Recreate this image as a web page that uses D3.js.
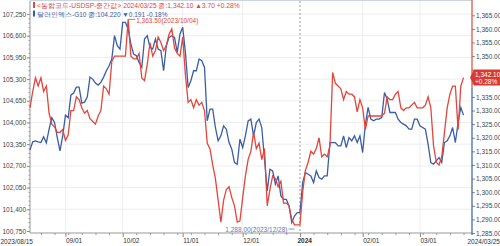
<!DOCTYPE html>
<html>
<head>
<meta charset="utf-8">
<script src="https://cdn.jsdelivr.net/npm/d3@7"></script>
<style>
body { margin: 0; background: #fff; }
svg { display: block; }
text { font-family: "Liberation Sans", Arial, sans-serif; }
</style>
</head>
<body>
<svg id="chart" width="500" height="246"></svg>
<script>
// weekday axis, 2023/08/15 .. 2024/03/25
const startDay = new Date(2023, 7, 15)
const endDay = new Date(2024, 2, 26)

// <통합코드-USDSP-중간값> (right axis)
const usdkrw = [
    1331, 1337, 1342, 1339, 1342, 1337, 1339, 1329, 1325, 1324, 1322, 1322, 1323,
    1319, 1321, 1330, 1330, 1335, 1334, 1331, 1329, 1330, 1327, 1326, 1325, 1328, 1330, 1339, 1338, 1336, 1348, 1350, 1350, 1350,
    1350, 1350, 1363.5, 1350, 1349, 1349, 1351, 1342, 1341, 1347, 1355, 1350, 1352, 1357, 1355, 1352, 1354, 1358, 1360, 1353, 1351, 1350,
    1357, 1343, 1333, 1334, 1331, 1334, 1332, 1333, 1330, 1318, 1316, 1310, 1305, 1297, 1289, 1297, 1301, 1302, 1298, 1295, 1289, 1289.5,
    1298, 1306, 1312, 1315, 1322, 1316, 1318, 1312, 1316, 1295, 1301, 1306, 1305, 1302, 1304, 1296, 1296, 1295, 1290, 1288, 1288,
    1288, 1300, 1308, 1311, 1315, 1314, 1316, 1320, 1313, 1314, 1313, 1317, 1344, 1340, 1339, 1338, 1334, 1337, 1336, 1336, 1335, 1329.5, 1334,
    1331, 1323, 1328, 1328, 1328, 1328, 1328, 1328, 1329, 1335, 1334, 1334, 1336, 1337, 1331, 1330, 1331, 1331, 1332, 1333, 1331,
    1331, 1331, 1332, 1335, 1331, 1317, 1311, 1310, 1313, 1322, 1331, 1336, 1339, 1339, 1323, 1339, 1342.1
]

// 달러인덱스-G10 (left axis)
const dxy = [
    103.18, 103.42, 103.45, 103.42, 103.40, 103.57, 103.39, 103.80, 104.14, 104.00, 103.55, 103.15, 103.60,
    104.22, 104.14, 104.82, 104.88, 105.06, 105.06, 104.58, 104.61, 104.76, 105.36, 105.30, 105.18, 105.12, 105.21, 105.36, 105.55, 105.70, 105.90, 106.60, 106.30, 106.20,
    107.00, 107.00, 106.80, 106.35, 106.05, 106.00, 105.80, 105.65, 106.50, 106.60, 106.25, 106.20, 106.50, 106.20, 106.15, 105.55, 106.30, 106.55, 106.60, 106.55, 106.10, 106.65,
    106.85, 106.10, 105.05, 105.25, 105.55, 105.55, 105.90, 105.85, 105.65, 104.05, 104.40, 104.40, 103.85, 103.45, 103.60, 103.90, 103.80, 103.40, 103.20, 102.80, 102.75, 103.50,
    103.25, 103.60, 104.05, 104.10, 103.60, 104.00, 104.10, 103.85, 102.90, 101.95, 102.60, 102.55, 102.15, 102.40, 101.80, 101.70, 101.70, 101.50, 101.00, 101.20, 101.30,
    101.30, 102.20, 102.50, 102.45, 102.40, 102.20, 102.55, 102.35, 102.30, 102.40, 102.40, 103.40, 103.40, 103.40, 103.30, 103.30, 103.60, 103.25, 103.55, 103.45, 103.60, 103.40, 103.60,
    103.10, 103.95, 104.45, 104.10, 104.05, 104.10, 104.10, 104.15, 104.90, 104.70, 104.30, 104.30, 104.30, 104.10, 104.00, 103.95, 103.90, 103.80, 103.80, 104.10, 104.10,
    103.90, 103.85, 103.80, 103.35, 102.80, 102.75, 102.85, 102.95, 102.80, 103.40, 103.45, 103.60, 103.85, 103.40, 104.00, 104.45, 104.22
]

const leftTicks = [100.75, 101.4, 102.05, 102.7, 103.35, 104.0, 104.65, 105.3, 105.95, 106.6, 107.25]
const rightTicks = [1285, 1290, 1295, 1300, 1305, 1310, 1315, 1320, 1325, 1330, 1335, 1340, 1345, 1350, 1355, 1360, 1365]
const tickDates = ["2023/09/01", "2023/10/02", "2023/11/01", "2023/12/01", "2024/01/01", "2024/02/01", "2024/03/01"]
const tickLabels = ["09/01", "10/02", "11/01", "12/01", "2024", "02/01", "03/01"]

const legend1 = "<통합코드-USDSP-중간값> 2024/03/25 종:1,342.10 ▲3.70 +0.28%"
const legend2 = "달러인덱스-G10 종:104.220 ▼0.191 -0.18%"
const lastChange = "+0.28%"

const red = "#e2463c"
const blue = "#3a5da8"
const plotL = 30, plotR = 472, plotT = 1, plotB = 233

const days = d3.timeDay.range(startDay, endDay).filter(d => d.getDay() % 6 !== 0)
const fmtDay = d3.timeFormat("%Y/%m/%d")
const tickIdx = tickDates.map(t => days.findIndex(d => fmtDay(d) === t))

const x = d3.scaleLinear().domain([0, 162.1]).range([plotL, plotR])
const yL = d3.scaleLinear().domain([100.75, 107.25]).range([231, 14])
const yR = d3.scaleLinear().domain([1285, 1365]).range([233, 15.3])

const last = usdkrw[usdkrw.length - 1]
const fy = yR(last)

const svg = d3.select("#chart")

// grid
svg.append("g").selectAll("line").data(leftTicks.slice(1)).join("line")
    .attr("x1", plotL).attr("x2", plotR)
    .attr("y1", d => yL(d)).attr("y2", d => yL(d))
    .attr("stroke", "#eeeeee")

svg.append("g").selectAll("line").data(tickIdx).join("line")
    .attr("x1", d => x(d)).attr("x2", d => x(d))
    .attr("y1", plotT).attr("y2", plotB)
    .attr("stroke", (d, i) => tickLabels[i] === "2024" ? "#9a9a9a" : "#eeeeee")
    .attr("stroke-dasharray", (d, i) => tickLabels[i] === "2024" ? "2,2" : null)

svg.append("line")
    .attr("x1", plotL).attr("x2", plotR).attr("y1", 0.5).attr("y2", 0.5)
    .attr("stroke", "#cdd4de")

// left axis
const axL = svg.append("g").attr("transform", `translate(${plotL},0)`)
    .call(d3.axisLeft(yL).tickValues(leftTicks).tickSize(3).tickPadding(1)
        .tickFormat(d => d3.format(",")(Math.round(d * 1000))))
axL.select(".domain").remove()
axL.selectAll("line").attr("stroke", "#888")
axL.selectAll("text").attr("font-size", 6.5).attr("fill", "#444").attr("font-family", "Liberation Sans")
svg.append("g").attr("transform", `translate(${plotL},0)`)
    .call(d3.axisLeft(yL).tickValues(d3.range(100.75, 107.3, 0.13)).tickSize(1.5).tickFormat(""))
    .call(g => g.select(".domain").remove())
    .selectAll("line").attr("stroke", "#999")
svg.append("line").attr("x1", plotL).attr("x2", plotL).attr("y1", plotT).attr("y2", plotB).attr("stroke", "#999")

// right axis (labels under the last-value flag are hidden)
const axR = svg.append("g").attr("transform", `translate(${plotR},0)`)
    .call(d3.axisRight(yR).tickValues(rightTicks).tickSize(3).tickPadding(1).tickFormat(d3.format(",.2f")))
axR.select(".domain").remove()
axR.selectAll("line").attr("stroke", "#888")
axR.selectAll("text").attr("font-size", 6.5).attr("fill", "#444").attr("font-family", "Liberation Sans")
axR.selectAll(".tick").filter(d => Math.abs(yR(d) - fy) < 11).select("text").remove()

// bottom axis
const axB = svg.append("g").attr("transform", `translate(0,${plotB})`)
    .call(d3.axisBottom(x).tickValues(tickIdx).tickSize(4).tickPadding(1).tickFormat((d, i) => tickLabels[i]))
axB.select(".domain").remove()
axB.selectAll("line").attr("stroke", "#888")
axB.selectAll("text")
    .attr("font-size", 6.5).attr("fill", "#333").attr("font-family", "Liberation Sans")
    .attr("text-anchor", "start")
    .attr("x", (d, i) => tickLabels[i] === "2024" ? -3 : 0)
    .attr("font-weight", (d, i) => tickLabels[i] === "2024" ? "bold" : null)
const mondays = days.map((d, i) => d.getDay() === 1 ? i : -1).filter(i => i >= 0 && !tickIdx.includes(i))
svg.append("g").attr("transform", `translate(0,${plotB})`)
    .call(d3.axisBottom(x).tickValues(mondays).tickSize(2).tickFormat(""))
    .call(g => g.select(".domain").remove())
    .selectAll("line").attr("stroke", "#999")
svg.append("line").attr("x1", plotL).attr("x2", plotR).attr("y1", plotB).attr("y2", plotB).attr("stroke", "#999")

svg.append("text").attr("x", 33).attr("y", 243.5).attr("text-anchor", "end")
    .attr("font-size", 6.5).attr("fill", "#333").text(fmtDay(days[0]))
svg.append("text").attr("x", 500).attr("y", 243.5).attr("text-anchor", "end")
    .attr("font-size", 6.5).attr("fill", "#333").text(fmtDay(days[days.length - 1]))

// lines
const lineL = d3.line().x((d, i) => x(i)).y(d => yL(d))
const lineR = d3.line().x((d, i) => x(i)).y(d => yR(d))
svg.append("path").datum(dxy).attr("d", lineL)
    .attr("fill", "none").attr("stroke", blue).attr("stroke-width", 1.3)
svg.append("path").datum(usdkrw).attr("d", lineR)
    .attr("fill", "none").attr("stroke", red).attr("stroke-width", 1.3)

// max / min annotations
const maxI = d3.maxIndex(usdkrw), minI = d3.minIndex(usdkrw)
svg.append("line").attr("x1", x(maxI)).attr("x2", x(maxI) + 7)
    .attr("y1", yR(usdkrw[maxI])).attr("y2", yR(usdkrw[maxI])).attr("stroke", red).attr("stroke-width", 0.8)
svg.append("text").attr("x", x(maxI) + 8).attr("y", yR(usdkrw[maxI]) + 3.5)
    .attr("font-size", 6.5).attr("fill", red)
    .text(d3.format(",.2f")(usdkrw[maxI]) + "(" + fmtDay(days[maxI]) + ")")
svg.append("line").attr("x1", x(minI) - 6).attr("x2", x(minI))
    .attr("y1", 229).attr("y2", 229).attr("stroke", "#5b7cc0").attr("stroke-width", 0.8)
svg.append("text").attr("x", x(minI) - 7).attr("y", 231.5).attr("text-anchor", "end")
    .attr("font-size", 6.5).attr("fill", "#5b7cc0")
    .text(d3.format(",.2f")(usdkrw[minI]) + "(" + fmtDay(days[minI]) + ")")

// right axis colored spine + last value flag
svg.append("line").attr("x1", plotR).attr("x2", plotR).attr("y1", 0).attr("y2", fy + 10)
    .attr("stroke", red).attr("stroke-width", 1.2)
svg.append("line").attr("x1", plotR).attr("x2", plotR).attr("y1", fy + 10).attr("y2", plotB + 2)
    .attr("stroke", blue).attr("stroke-width", 1.2)
svg.append("path")
    .attr("d", `M${plotR - 2},${fy} L${plotR + 2},${fy - 8} L500,${fy - 8} L500,${fy + 8} L${plotR + 2},${fy + 8} Z`)
    .attr("fill", "#d83a2f")
svg.append("text").attr("x", plotR + 3).attr("y", fy - 1).attr("font-size", 6.5).attr("fill", "#fff")
    .text(d3.format(",.2f")(last))
svg.append("text").attr("x", plotR + 3).attr("y", fy + 6.5).attr("font-size", 6.5).attr("fill", "#fff")
    .text(lastChange)

// legend
svg.append("rect").attr("x", 33).attr("y", 2).attr("width", 2).attr("height", 6).attr("fill", red)
svg.append("text").attr("x", 37).attr("y", 8).attr("font-size", 6.7).attr("fill", red)
    .attr("font-family", "'Noto Sans CJK KR', sans-serif").text(legend1)
svg.append("rect").attr("x", 33).attr("y", 10.5).attr("width", 2).attr("height", 6).attr("fill", blue)
svg.append("text").attr("x", 37).attr("y", 16.5).attr("font-size", 6.5).attr("fill", blue)
    .attr("font-family", "'Noto Sans CJK KR', sans-serif").text(legend2)
</script>
</body>
</html>
